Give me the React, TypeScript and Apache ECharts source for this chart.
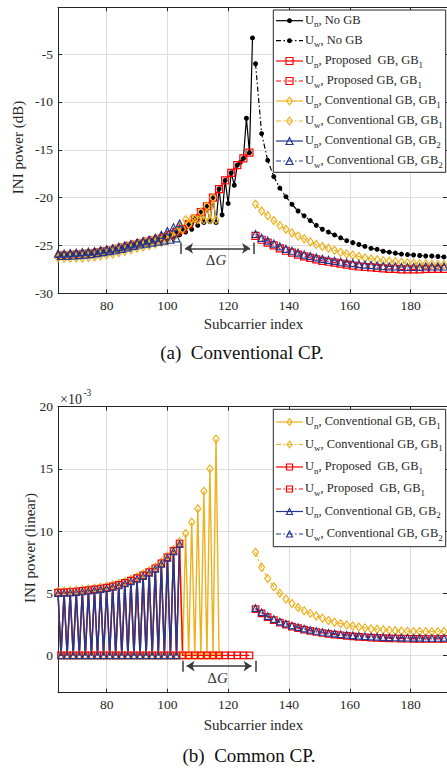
import React, { useEffect, useRef } from 'react';
import * as echarts from 'echarts';

// ---------- helpers for index lists (subcarrier indices) ----------
const range = (a: number, b: number, s = 1) => {
  const r: number[] = [];
  for (let i = a; i <= b; i += s) r.push(i);
  return r;
};

// ---------- axes ----------
const xMin = 64;
const xMax = 192;
const xTicks = [80, 100, 120, 140, 160, 180];
const yTicksA = [-30, -25, -20, -15, -10, -5];
const yTicksB = [0, 5, 10, 15, 20];

// ---------- (a) Conventional CP, INI power (dB) ----------
const idxNoGbUnA = range(64, 128);
const noGbUnA = [
  -26.1, -26.0, -26.1, -26.0, -26.05, -25.95, -26.0, -25.9, -25.95, -25.85,
  -25.9, -25.8, -25.85, -25.7, -25.75, -25.6, -25.7, -25.5, -25.6, -25.35,
  -25.45, -25.2, -25.3, -25.05, -25.15, -24.9, -25.0, -24.75, -24.85, -24.6,
  -24.7, -24.45, -24.6, -24.3, -24.45, -24.1, -24.3, -23.9, -24.1, -23.6,
  -23.9, -23.3, -23.6, -22.8, -23.3, -22.2, -22.9, -21.5, -22.6, -20.9,
  -22.5, -20.0, -22.6, -19.1, -21.8, -18.2, -20.6, -17.4, -18.7, -16.6,
  -16.3, -15.9, -11.7, -15.3, -3.3,
];
const idxPropUnA = range(65, 127, 2);
const propUnA = [
  -26.0, -26.0, -25.95, -25.9, -25.85, -25.8, -25.7, -25.6, -25.5, -25.35,
  -25.2, -25.05, -24.9, -24.75, -24.6, -24.45, -24.3, -24.1, -23.9, -23.6,
  -23.3, -22.8, -22.2, -21.5, -20.9, -20.0, -19.1, -18.2, -17.4, -16.6,
  -15.9, -15.3,
];
const idxGb1UnA = range(64, 116);
const gb1UnA = [
  -26.3, -26.0, -26.35, -26.0, -26.35, -25.95, -26.3, -25.9, -26.3, -25.85,
  -26.25, -25.8, -26.2, -25.7, -26.1, -25.6, -26.0, -25.5, -25.9, -25.35,
  -25.75, -25.2, -25.6, -25.05, -25.45, -24.9, -25.3, -24.75, -25.15, -24.6,
  -25.0, -24.45, -24.85, -24.3, -24.7, -24.1, -24.5, -23.9, -24.2, -23.6,
  -23.0, -23.3, -22.3, -22.8, -22.2, -22.2, -22.3, -21.5, -22.3, -20.9,
  -22.3, -20.0, -22.3,
];
const idxGb2UnA = range(64, 104);
const gb2UnA = [
  -25.85, -26.1, -25.85, -26.1, -25.8, -26.05, -25.75, -26.0, -25.7, -25.95,
  -25.65, -25.9, -25.6, -25.8, -25.5, -25.7, -25.4, -25.6, -25.3, -25.5,
  -25.15, -25.35, -25.0, -25.2, -24.85, -25.05, -24.7, -24.9, -24.55, -24.8,
  -24.4, -24.7, -24.2, -24.6, -23.9, -24.5, -23.5, -24.4, -23.1, -24.25,
  -22.7,
];
const idxUw = range(129, 191, 2);
const noGbUwA = [
  -6.0, -13.3, -16.1, -17.8, -19.0, -19.9, -20.7, -21.4, -21.9, -22.4,
  -22.9, -23.3, -23.6, -23.9, -24.2, -24.5, -24.7, -24.9, -25.1, -25.3,
  -25.4, -25.6, -25.7, -25.8, -25.9, -25.95, -26.0, -26.05, -26.1, -26.1,
  -26.15, -26.2,
];
const propUwA = [
  -24.0, -24.4, -24.7, -25.0, -25.3, -25.55, -25.75, -25.95, -26.15, -26.3,
  -26.45, -26.6, -26.7, -26.8, -26.9, -27.0, -27.1, -27.2, -27.25, -27.3,
  -27.35, -27.4, -27.45, -27.45, -27.5, -27.5, -27.5, -27.5, -27.45, -27.45,
  -27.45, -27.45,
];
const gb1UwA = [
  -20.7, -21.4, -21.9, -22.4, -22.9, -23.3, -23.7, -24.0, -24.3, -24.6,
  -24.9, -25.1, -25.3, -25.5, -25.7, -25.9, -26.0, -26.15, -26.3, -26.4,
  -26.5, -26.6, -26.65, -26.7, -26.75, -26.8, -26.85, -26.9, -26.9, -26.95,
  -26.95, -27.0,
];
const gb2UwA = [
  -23.8, -24.2, -24.5, -24.8, -25.1, -25.35, -25.55, -25.75, -25.95, -26.1,
  -26.25, -26.4, -26.5, -26.6, -26.7, -26.8, -26.85, -26.95, -27.0, -27.05,
  -27.1, -27.15, -27.2, -27.2, -27.25, -27.25, -27.25, -27.25, -27.2, -27.2,
  -27.2, -27.2,
];

// ---------- (b) Common CP, INI power (linear, x1e-3) ----------
const idxGb1UnB = range(64, 117);
const gb1UnB = [
  5.15, 0, 5.17, 0, 5.2, 0, 5.24, 0, 5.29, 0,
  5.35, 0, 5.41, 0, 5.48, 0, 5.56, 0, 5.66, 0,
  5.78, 0, 5.94, 0, 6.12, 0, 6.32, 0, 6.54, 0,
  6.8, 0, 7.12, 0, 7.52, 0, 8.0, 0, 8.52, 0,
  9.15, 0, 9.8, 0, 10.7, 0, 11.8, 0, 13.2, 0,
  15.0, 0, 17.4, 0,
];
const idxPropUnB = range(64, 104).concat(range(105, 127, 2));
const propUnB = [
  5.05, 0, 5.07, 0, 5.1, 0, 5.14, 0, 5.19, 0,
  5.25, 0, 5.31, 0, 5.38, 0, 5.45, 0, 5.55, 0,
  5.67, 0, 5.83, 0, 6.01, 0, 6.21, 0, 6.43, 0,
  6.69, 0, 7.01, 0, 7.41, 0, 7.89, 0, 8.41, 0,
  9.0,
  0, 0, 0, 0, 0, 0, 0, 0, 0, 0, 0, 0,
];
const idxGb2UnB = range(64, 104);
const gb2UnB = [
  5.0, 0, 5.02, 0, 5.05, 0, 5.09, 0, 5.14, 0,
  5.2, 0, 5.26, 0, 5.33, 0, 5.4, 0, 5.5, 0,
  5.62, 0, 5.78, 0, 5.96, 0, 6.16, 0, 6.38, 0,
  6.64, 0, 6.96, 0, 7.36, 0, 7.84, 0, 8.36, 0,
  8.95,
];
const gb1UwB = [
  8.29, 7.08, 6.19, 5.52, 4.99, 4.53, 4.18, 3.86, 3.59, 3.38,
  3.16, 2.98, 2.81, 2.67, 2.55, 2.45, 2.36, 2.28, 2.21, 2.15,
  2.1, 2.06, 2.02, 1.99, 1.97, 1.95, 1.93, 1.92, 1.91, 1.91,
  1.91, 1.92,
];
const propUwB = [
  3.72, 3.38, 3.08, 2.84, 2.64, 2.47, 2.32, 2.19, 2.07, 1.97,
  1.88, 1.8, 1.73, 1.67, 1.62, 1.57, 1.53, 1.49, 1.46, 1.43,
  1.41, 1.39, 1.37, 1.36, 1.35, 1.34, 1.33, 1.33, 1.32, 1.32,
  1.32, 1.33,
];
const gb2UwB = [
  3.8, 3.46, 3.16, 2.92, 2.72, 2.55, 2.4, 2.27, 2.15, 2.05,
  1.96, 1.88, 1.81, 1.75, 1.7, 1.65, 1.61, 1.57, 1.54, 1.51,
  1.49, 1.47, 1.45, 1.44, 1.43, 1.42, 1.41, 1.41, 1.4, 1.4,
  1.4, 1.41,
];

// ---------- annotation (guard band width) ----------
const gapA = [104.5, 128.5];
const gapB = [105.0, 129.0];

// ---------- styles ----------
const FONT = '"Liberation Serif", "Times New Roman", serif';
const AX = '#262626';
const GRID = '#dedede';
const BLACK = '#000000';
const RED = '#ff0000';
const YEL = '#EDB120';
const BLUE = '#22398f';
const DASHDOT = [5, 2.5, 1.5, 2.5];

type Ser = {
  name: string; xs: number[]; ys: number[]; color: string; dashed: boolean;
  symbol: string; size: number | number[]; filled: boolean; width?: number;
};

function lineSeries(s: Ser, gi: number) {
  return {
    type: 'line',
    name: s.name,
    xAxisIndex: gi * 2,
    yAxisIndex: gi * 2,
    data: s.xs.map((x, i) => [x, s.ys[i]]),
    symbol: s.symbol,
    symbolSize: s.size,
    showSymbol: true,
    showAllSymbol: true,
    silent: true,
    clip: true,
    lineStyle: { color: s.color, width: s.width ?? 1.2, type: s.dashed ? DASHDOT : 'solid' },
    itemStyle: {
      color: s.filled ? s.color : 'rgba(255,255,255,0)',
      borderColor: s.color,
      borderWidth: s.filled ? 0 : 1.2,
    },
    emphasis: { disabled: true },
  };
}

function annoSeries(gi: number, gap: number[], yArrow: number, yBar: number[], labelY: number) {
  const inset = 1.3;
  const mid = (gap[0] + gap[1]) / 2;
  return {
    type: 'line',
    name: 'anno' + gi,
    xAxisIndex: gi * 2,
    yAxisIndex: gi * 2,
    data: [],
    silent: true,
    z: 5,
    markLine: {
      silent: true,
      animation: false,
      symbol: ['none', 'none'],
      label: { show: false },
      lineStyle: { color: '#3a3a3a', width: 1.5, type: 'solid' },
      data: [
        [
          { coord: [gap[0] + inset, yArrow], symbol: 'arrow', symbolSize: 8 },
          { coord: [gap[1] - inset, yArrow], symbol: 'arrow', symbolSize: 8 },
        ],
        [
          { coord: [gap[0], yBar[0]], symbol: 'none' },
          { coord: [gap[0], yBar[1]], symbol: 'none' },
        ],
        [
          { coord: [gap[1], yBar[0]], symbol: 'none' },
          { coord: [gap[1], yBar[1]], symbol: 'none' },
        ],
      ],
    },
    markPoint: {
      silent: true,
      animation: false,
      symbol: 'circle',
      symbolSize: 0,
      itemStyle: { color: 'rgba(0,0,0,0)' },
      label: {
        show: true,
        position: 'inside',
        formatter: '{d|Δ}{g|G}',
        rich: {
          d: { fontFamily: FONT, fontSize: 15, color: '#333' },
          g: { fontFamily: FONT, fontSize: 15, fontStyle: 'italic', color: '#333' },
        },
      },
      data: [{ coord: [mid - 0.5, labelY] }],
    },
  };
}

function xAxes(gi: number) {
  const common = {
    type: 'value', gridIndex: gi, min: xMin, max: xMax,
    axisLine: { show: true, onZero: false, lineStyle: { color: AX, width: 1 } },
    axisTick: { show: true, inside: true, length: 4, customValues: xTicks, lineStyle: { color: AX } },
  };
  return [
    {
      ...common, position: 'bottom',
      axisLabel: { show: true, customValues: xTicks, margin: 5, color: AX, fontFamily: FONT, fontSize: 13.5 },
      splitLine: { show: true, customValues: xTicks, lineStyle: { color: GRID, width: 1 } },
    },
    {
      ...common, position: 'top',
      axisLabel: { show: false },
      splitLine: { show: false },
    },
  ];
}

function yAxes(gi: number, min: number, max: number, ticks: number[]) {
  const common = {
    type: 'value', gridIndex: gi, min, max,
    axisLine: { show: true, onZero: false, lineStyle: { color: AX, width: 1 } },
    axisTick: { show: true, inside: true, length: 4, customValues: ticks, lineStyle: { color: AX } },
  };
  return [
    {
      ...common, position: 'left',
      axisLabel: { show: true, customValues: ticks, margin: 5, color: AX, fontFamily: FONT, fontSize: 13.5 },
      splitLine: { show: true, customValues: ticks, lineStyle: { color: GRID, width: 1 } },
    },
    {
      ...common, position: 'right',
      axisLabel: { show: false },
      splitLine: { show: false },
    },
  ];
}

// ---------- text measuring for legend layout ----------
let mctx: CanvasRenderingContext2D | null = null;
function tw(text: string, size: number) {
  if (!mctx) mctx = document.createElement('canvas').getContext('2d');
  if (!mctx) return text.length * size * 0.5;
  mctx.font = `${size}px "Liberation Serif"`;
  return mctx.measureText(text).width;
}

function textEl(text: string, x: number, y: number, size: number, extra: any = {}) {
  return {
    type: 'text', x, y, z: 102, silent: true,
    style: { text, fontSize: size, fontFamily: FONT, fill: AX, align: 'left', verticalAlign: 'middle', ...extra },
  };
}

type LegItem = { sub: string; text: string; tail: string; color: string; dashed: boolean; sym: string };

function symbolEl(sym: string, cx: number, cy: number, s: number, color: string) {
  const hollow = { fill: 'none', stroke: color, lineWidth: 1.2 };
  if (sym === 'circle') return { type: 'circle', z: 102, shape: { cx, cy, r: 2.5 }, style: { fill: color } };
  if (sym === 'rect') return { type: 'rect', z: 102, shape: { x: cx - s / 2, y: cy - s / 2, width: s, height: s }, style: hollow };
  if (sym === 'diamond') {
    const w = s * 0.85, h = s * 1.1;
    return { type: 'polygon', z: 102, shape: { points: [[cx, cy - h / 2], [cx + w / 2, cy], [cx, cy + h / 2], [cx - w / 2, cy]] }, style: hollow };
  }
  return { type: 'polygon', z: 102, shape: { points: [[cx, cy - s / 2], [cx + s / 2, cy + s / 2], [cx - s / 2, cy + s / 2]] }, style: hollow };
}

function legend(box: { x: number; y: number; width: number; height: number }, items: LegItem[], ys: number[], symSize: number) {
  const els: any[] = [
    { type: 'rect', z: 100, silent: true, shape: box, style: { fill: '#ffffff', stroke: AX, lineWidth: 1 } },
  ];
  const F = 12.5, S = 9;
  items.forEach((it, i) => {
    const y = ys[i];
    const ls: any = { stroke: it.color, lineWidth: 1.2 };
    if (it.dashed) ls.lineDash = DASHDOT;
    els.push({ type: 'line', z: 101, silent: true, shape: { x1: 276, y1: y, x2: 303, y2: y }, style: ls });
    els.push(symbolEl(it.sym, 289.5, y, symSize, it.color));
    let x = 305;
    els.push(textEl('U', x, y - 1, F));
    x += tw('U', F);
    els.push(textEl(it.sub, x, y + 3.5, S));
    x += tw(it.sub, S);
    els.push(textEl(it.text, x, y - 1, F));
    x += tw(it.text, F);
    if (it.tail) els.push(textEl(it.tail, x, y + 3.5, S));
  });
  return els;
}

const legendA: LegItem[] = [
  { sub: 'n', text: ', No GB', tail: '', color: BLACK, dashed: false, sym: 'circle' },
  { sub: 'w', text: ', No GB', tail: '', color: BLACK, dashed: true, sym: 'circle' },
  { sub: 'n', text: ', Proposed\u00A0 GB, GB', tail: '1', color: RED, dashed: false, sym: 'rect' },
  { sub: 'w', text: ', Proposed GB, GB', tail: '1', color: RED, dashed: true, sym: 'rect' },
  { sub: 'n', text: ', Conventional GB, GB', tail: '1', color: YEL, dashed: false, sym: 'diamond' },
  { sub: 'w', text: ', Conventional GB, GB', tail: '1', color: YEL, dashed: true, sym: 'diamond' },
  { sub: 'n', text: ', Conventional GB, GB', tail: '2', color: BLUE, dashed: false, sym: 'triangle' },
  { sub: 'w', text: ', Conventional GB, GB', tail: '2', color: BLUE, dashed: true, sym: 'triangle' },
];
const legendB: LegItem[] = [
  { sub: 'n', text: ', Conventional GB, GB', tail: '1', color: YEL, dashed: false, sym: 'diamond' },
  { sub: 'w', text: ', Conventional GB, GB', tail: '1', color: YEL, dashed: true, sym: 'diamond' },
  { sub: 'n', text: ', Proposed\u00A0 GB, GB', tail: '1', color: RED, dashed: false, sym: 'rect' },
  { sub: 'w', text: ', Proposed\u00A0 GB, GB', tail: '1', color: RED, dashed: true, sym: 'rect' },
  { sub: 'n', text: ', Conventional GB, GB', tail: '2', color: BLUE, dashed: false, sym: 'triangle' },
  { sub: 'w', text: ', Conventional GB, GB', tail: '2', color: BLUE, dashed: true, sym: 'triangle' },
];

function buildOption() {
  const seriesA: Ser[] = [
    { name: 'Un No GB', xs: idxNoGbUnA, ys: noGbUnA, color: BLACK, dashed: false, symbol: 'circle', size: 5, filled: true },
    { name: 'Uw No GB', xs: idxUw, ys: noGbUwA, color: BLACK, dashed: true, symbol: 'circle', size: 5, filled: true },
    { name: 'Un Proposed GB1', xs: idxPropUnA, ys: propUnA, color: RED, dashed: false, symbol: 'rect', size: 7, filled: false },
    { name: 'Uw Proposed GB1', xs: idxUw, ys: propUwA, color: RED, dashed: true, symbol: 'rect', size: 7, filled: false },
    { name: 'Un Conv GB1', xs: idxGb1UnA, ys: gb1UnA, color: YEL, dashed: false, symbol: 'diamond', size: [6, 8], filled: false },
    { name: 'Uw Conv GB1', xs: idxUw, ys: gb1UwA, color: YEL, dashed: true, symbol: 'diamond', size: [6, 8], filled: false },
    { name: 'Un Conv GB2', xs: idxGb2UnA, ys: gb2UnA, color: BLUE, dashed: false, symbol: 'triangle', size: 7, filled: false },
    { name: 'Uw Conv GB2', xs: idxUw, ys: gb2UwA, color: BLUE, dashed: true, symbol: 'triangle', size: 7, filled: false },
  ];
  const seriesB: Ser[] = [
    { name: 'B Un Conv GB1', xs: idxGb1UnB, ys: gb1UnB, color: YEL, dashed: false, symbol: 'diamond', size: [6, 8], filled: false, width: 1.4 },
    { name: 'B Uw Conv GB1', xs: idxUw, ys: gb1UwB, color: YEL, dashed: true, symbol: 'diamond', size: [6, 8], filled: false },
    { name: 'B Un Proposed GB1', xs: idxPropUnB, ys: propUnB, color: RED, dashed: false, symbol: 'rect', size: 6.5, filled: false, width: 1.4 },
    { name: 'B Uw Proposed GB1', xs: idxUw, ys: propUwB, color: RED, dashed: true, symbol: 'rect', size: 6.5, filled: false },
    { name: 'B Un Conv GB2', xs: idxGb2UnB, ys: gb2UnB, color: BLUE, dashed: false, symbol: 'triangle', size: 6.5, filled: false, width: 1.5 },
    { name: 'B Uw Conv GB2', xs: idxUw, ys: gb2UwB, color: BLUE, dashed: true, symbol: 'triangle', size: 6.5, filled: false },
  ];

  const graphic: any[] = [
    // axis titles
    { type: 'text', x: 17.5, y: 147.5, rotation: Math.PI / 2, silent: true,
      style: { text: 'INI power (dB)', fontSize: 15, fontFamily: FONT, fill: AX, align: 'center', verticalAlign: 'middle' } },
    { type: 'text', x: 30, y: 548, rotation: Math.PI / 2, silent: true,
      style: { text: 'INI power (linear)', fontSize: 15, fontFamily: FONT, fill: AX, align: 'center', verticalAlign: 'middle' } },
    { type: 'text', x: 253.5, y: 324, silent: true,
      style: { text: 'Subcarrier index', fontSize: 15, fontFamily: FONT, fill: AX, align: 'center', verticalAlign: 'middle' } },
    { type: 'text', x: 253.5, y: 725, silent: true,
      style: { text: 'Subcarrier index', fontSize: 15, fontFamily: FONT, fill: AX, align: 'center', verticalAlign: 'middle' } },
    // captions
    { type: 'text', x: 242, y: 352, silent: true,
      style: { text: '(a)\u00A0\u00A0Conventional CP.', fontSize: 19, fontFamily: FONT, fill: '#111', align: 'center', verticalAlign: 'middle' } },
    { type: 'text', x: 249, y: 755, silent: true,
      style: { text: '(b)\u00A0\u00A0Common CP.', fontSize: 19, fontFamily: FONT, fill: '#111', align: 'center', verticalAlign: 'middle' } },
    // exponent
    textEl('\u00D710', 60, 399.5, 14),
    textEl('-3', 60 + tw('\u00D710', 14) + 1.5, 393, 9.5),
    ...legend({ x: 273.3, y: 10, width: 172.4, height: 162.3 }, legendA, [20.7, 40.7, 61, 81, 101, 121, 141, 161], 7),
    ...legend({ x: 273.3, y: 409.3, width: 172.4, height: 137.4 }, legendB, [422, 444.5, 467, 489, 511.5, 534], 6),
  ];

  return {
    animation: false,
    backgroundColor: '#ffffff',
    grid: [
      { left: 58, top: 7.3, width: 391, height: 286, containLabel: false },
      { left: 58, top: 406.7, width: 391, height: 286, containLabel: false },
    ],
    xAxis: [...xAxes(0), ...xAxes(1)],
    yAxis: [...yAxes(0, -30, -0.1, yTicksA), ...yAxes(1, -3, 20, yTicksB)],
    series: [
      ...seriesA.map((s) => lineSeries(s, 0)),
      annoSeries(0, gapA, -25.3, [-24.7, -25.9], -26.5),
      ...seriesB.map((s) => lineSeries(s, 1)),
      annoSeries(1, gapB, -0.86, [-0.43, -1.32], -1.83),
    ],
    graphic,
  };
}

export default function App() {
  const ref = useRef<HTMLDivElement>(null);
  useEffect(() => {
    document.body.style.margin = '0';
    if (!ref.current) return;
    const chart = echarts.init(ref.current, undefined, { renderer: 'svg', width: 447, height: 768 });
    chart.setOption(buildOption() as any);
    return () => chart.dispose();
  }, []);
  return (
    <div
      ref={ref}
      style={{ position: 'absolute', left: 0, top: 0, width: 447, height: 768, background: '#fff' }}
    />
  );
}
